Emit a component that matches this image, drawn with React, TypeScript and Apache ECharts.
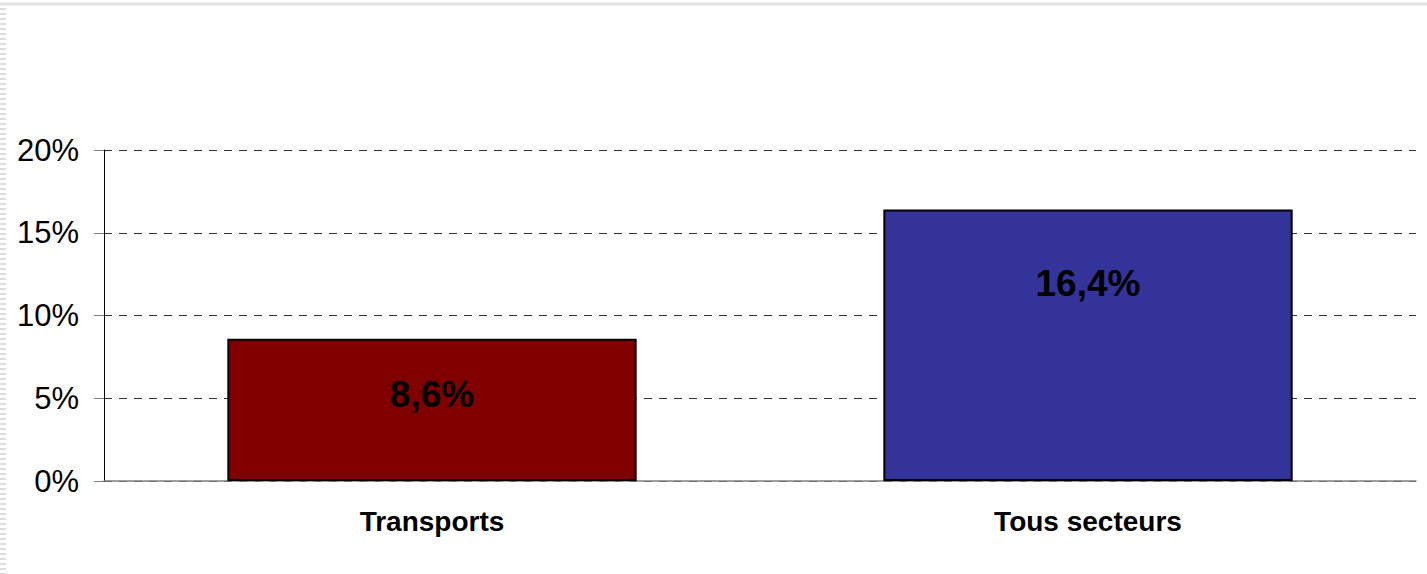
import React, { useEffect, useRef } from "react";
import * as echarts from "echarts";

const categories = ["Transports", "Tous secteurs"];
const values = [8.6, 16.4];
const barColors = ["#800000", "#333399"];
const labelDistances = [37, 55];
const yTicks = [0, 5, 10, 15, 20];

const FONT = "Liberation Sans, Arial, sans-serif";

export default function App() {
  const ref = useRef<HTMLDivElement>(null);
  useEffect(() => {
    if (!ref.current) return;
    const chart = echarts.init(ref.current, null, { renderer: "svg" });
    chart.setOption({
      animation: false,
      backgroundColor: "#ffffff",
      textStyle: { fontFamily: FONT },
      graphic: [
        { type: "line", shape: { x1: 0, y1: 4, x2: 1427, y2: 4 }, style: { stroke: "#e2e2e2", lineWidth: 3 } },
        { type: "line", shape: { x1: 3, y1: 8, x2: 3, y2: 574 }, style: { stroke: "#dcdcdc", lineWidth: 6, lineDash: [2, 3] } },
      ],
      grid: { left: 104, right: 11, top: 150, bottom: 93, containLabel: false },
      xAxis: {
        type: "category",
        data: categories,
        axisLine: { show: true, lineStyle: { color: "#808080", width: 1.5 } },
        axisTick: { show: false },
        axisLabel: { fontSize: 28, fontWeight: "bold", color: "#000", margin: 26, fontFamily: FONT },
      },
      yAxis: {
        type: "value",
        min: yTicks[0],
        max: yTicks[yTicks.length - 1],
        interval: 5,
        axisLine: { show: true, lineStyle: { color: "#000", width: 1 } },
        axisTick: { show: true, length: 10, lineStyle: { color: "#808080" } },
        axisLabel: { fontSize: 31, color: "#000", margin: 25, formatter: (v: number) => v + "%", fontFamily: FONT },
        splitLine: { show: true, lineStyle: { color: "#333", type: [8, 7], width: 1 } },
      },
      series: [
        {
          type: "bar",
          barWidth: "62.4%",
          data: values.map((v, i) => ({
            value: v,
            itemStyle: { color: barColors[i], borderColor: "#000", borderWidth: 2 },
            label: { distance: labelDistances[i] },
          })),
          label: {
            show: true,
            position: "insideTop",
            fontSize: 37,
            fontWeight: "bold",
            color: "#000",
            fontFamily: FONT,
            formatter: (p: any) => String(p.value).replace(".", ",") + "%",
          },
        },
      ],
    });
    return () => chart.dispose();
  }, []);
  return <div ref={ref} style={{ position: "absolute", left: 0, top: 0, width: 1427, height: 574 }} />;
}
